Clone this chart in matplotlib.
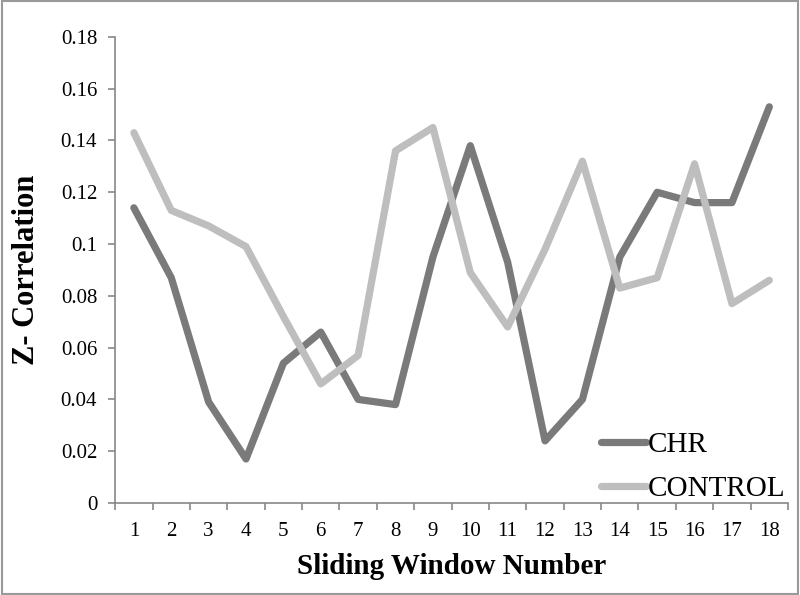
import matplotlib
matplotlib.use("Agg")
import matplotlib.pyplot as plt
from matplotlib.patches import Rectangle

windows = list(range(1, 19))
chr_vals = [0.114, 0.087, 0.039, 0.017, 0.054, 0.066, 0.040, 0.038, 0.095,
            0.138, 0.093, 0.024, 0.040, 0.095, 0.120, 0.116, 0.116, 0.153]
control_vals = [0.143, 0.113, 0.107, 0.099, 0.072, 0.046, 0.057, 0.136, 0.145,
                0.089, 0.068, 0.098, 0.132, 0.083, 0.087, 0.131, 0.077, 0.086]
yticks = [0, 0.02, 0.04, 0.06, 0.08, 0.1, 0.12, 0.14, 0.16, 0.18]
ytick_labels = ["0", "0.02", "0.04", "0.06", "0.08", "0.1", "0.12", "0.14", "0.16", "0.18"]

plt.rcParams['font.family'] = ['Liberation Serif', 'DejaVu Serif']

fig = plt.figure(figsize=(8, 5.95), dpi=100)
ax = fig.add_axes([0.144, 0.1546, 0.841, 0.7834])

ax.plot(windows, chr_vals, color='#7a7a7a', lw=5.2, label='CHR', solid_joinstyle='round', solid_capstyle='round')
ax.plot(windows, control_vals, color='#bebebe', lw=5.2, label='CONTROL', solid_joinstyle='round', solid_capstyle='round')

ax.set_xlim(0.5, 18.5)
ax.set_ylim(0, 0.18)
ax.set_yticks(yticks)
ax.set_yticklabels(ytick_labels, fontsize=15)
ax.set_xticks(windows)
ax.set_xticklabels([str(w) for w in windows], fontsize=15)
ax.set_xticks([w + 0.5 for w in range(0, 19)], minor=True)
ax.tick_params(axis='x', which='major', length=0, pad=14)
ax.tick_params(axis='x', which='minor', length=5, color='#888888', width=1.2, direction='out')
ax.tick_params(axis='y', length=5, color='#888888', width=1.2, direction='out', pad=8)

for s in ['top', 'right']:
    ax.spines[s].set_visible(False)
for s in ['left', 'bottom']:
    ax.spines[s].set_color('#888888')
    ax.spines[s].set_linewidth(1.2)

ax.set_xlabel('Sliding Window Number', fontsize=21, fontweight='bold', labelpad=8)
ax.set_ylabel('Z- Correlation', fontsize=22, fontweight='bold', labelpad=14)

leg = ax.legend(loc='lower right', bbox_to_anchor=(1.035, -0.055), frameon=False, fontsize=21,
                handlelength=1.55, handletextpad=0.05, labelspacing=0.62)

fig.patches.append(Rectangle((0.002, 0.002), 0.996, 0.996, transform=fig.transFigure,
                             fill=False, edgecolor='#999999', lw=1.5))

fig.savefig('out.png', dpi=100)
